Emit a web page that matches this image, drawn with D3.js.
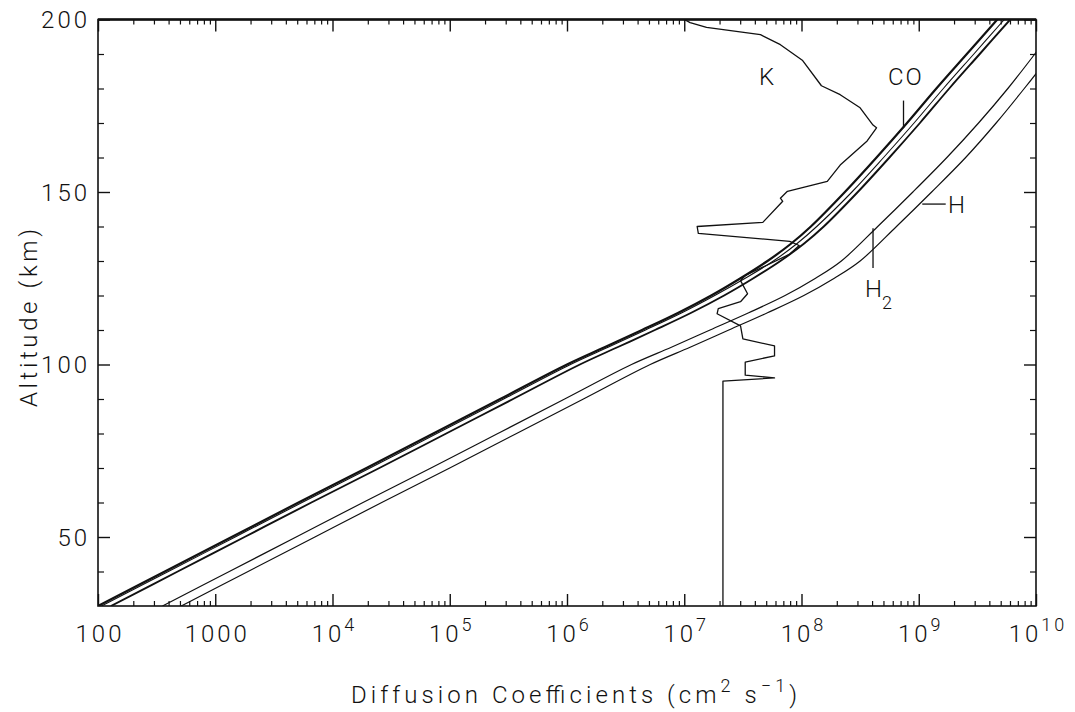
<!DOCTYPE html>
<html>
<head>
<meta charset="utf-8">
<script src="https://cdn.jsdelivr.net/npm/d3@7"></script>
<style>
  body { margin: 0; background: #fff; }
  text { font-family: Roboto, "Open Sans", sans-serif; font-weight: 300; fill: #111; }
</style>
</head>
<body>
<svg id="chart" width="1075" height="712"></svg>
<script>
// altitude grid (km) for the molecular diffusion curves
const heavyAlt = [30, 40, 50, 60, 70, 80, 90, 100, 105, 110, 115, 120, 125, 130, 135, 140, 150, 160, 170, 180, 190, 200]
// log10 of D (cm2 s-1)
const coLogD   = [2.00, 2.57, 3.14, 3.71, 4.29, 4.86, 5.43, 6.00, 6.32, 6.64, 6.95, 7.23, 7.48, 7.71, 7.91, 8.08, 8.37, 8.64, 8.90, 9.15, 9.41, 9.67]
const midLogD  = [2.03, 2.60, 3.17, 3.74, 4.32, 4.89, 5.46, 6.03, 6.35, 6.67, 6.98, 7.26, 7.52, 7.76, 7.96, 8.13, 8.43, 8.70, 8.96, 9.21, 9.47, 9.73]
const heavyLogD = [2.11, 2.68, 3.25, 3.82, 4.40, 4.97, 5.54, 6.11, 6.43, 6.75, 7.06, 7.34, 7.59, 7.82, 8.02, 8.19, 8.48, 8.75, 9.01, 9.26, 9.52, 9.78]

const lightAlt = [30, 40, 50, 60, 70, 80, 90, 100, 105, 110, 115, 120, 125, 130, 140, 150, 160, 170, 180, 190, 200]
const h2LogD   = [2.55, 3.12, 3.69, 4.26, 4.84, 5.41, 5.98, 6.55, 6.89, 7.22, 7.55, 7.86, 8.12, 8.34, 8.65, 8.95, 9.24, 9.51, 9.76, 9.99, 10.21]
const hLogD    = [2.71, 3.28, 3.85, 4.42, 5.00, 5.57, 6.14, 6.71, 7.05, 7.38, 7.71, 8.02, 8.28, 8.50, 8.81, 9.11, 9.40, 9.66, 9.90, 10.13, 10.35]

// eddy diffusion coefficient K, traced as a path (bottom to top)
const kAlt  = [30, 95.2, 96.1, 96.9, 100.7, 102.5, 105.4, 107.4, 111.2, 114.7, 116.2, 118.2, 120.5, 124.3, 125.8, 128.7, 132, 134.5, 135.7, 138, 140, 141.2, 147.3, 148.2, 150.2, 153.1, 157.8, 164.8, 168.6, 169.4, 174.4, 178.2, 180.8, 188.1, 192.7, 195.6, 197.7, 199.1, 200]
const kLogD = [7.33, 7.33, 7.77, 7.52, 7.52, 7.77, 7.77, 7.50, 7.48, 7.28, 7.29, 7.48, 7.54, 7.48, 7.52, 7.70, 7.90, 7.98, 7.90, 7.12, 7.11, 7.67, 7.84, 7.82, 7.88, 8.22, 8.33, 8.56, 8.64, 8.61, 8.50, 8.33, 8.17, 8.01, 7.82, 7.65, 7.19, 7.05, 7.00]

const yMajor = [50, 100, 150, 200]
const yMinor = [40, 60, 70, 80, 90, 110, 120, 130, 140, 160, 170, 180, 190]
const xExponents = [2, 3, 4, 5, 6, 7, 8, 9, 10]

const svg = d3.select("#chart")
svg.append("rect").attr("width", 1075).attr("height", 712).attr("fill", "#fff")

const x = d3.scaleLog().domain([1e2, 1e10]).range([98, 1036])
const y = d3.scaleLinear().domain([30, 200]).range([606, 19.5])

svg.append("clipPath").attr("id", "plot")
  .append("rect")
  .attr("x", x.range()[0]).attr("y", y.range()[1])
  .attr("width", x.range()[1] - x.range()[0])
  .attr("height", y.range()[0] - y.range()[1])

const majorX = xExponents.map(e => Math.pow(10, e))
const minorX = []
xExponents.slice(0, -1).forEach(e => {
  for (let m = 2; m <= 9; m++) minorX.push(m * Math.pow(10, e))
})

function tickAxis(axis, transform, width) {
  const g = svg.append("g").attr("transform", transform).call(axis)
  g.select(".domain").remove()
  g.selectAll("line").attr("stroke", "#111").attr("stroke-width", width)
  g.selectAll("text").remove()
}

// ticks point into the plot on all four sides
tickAxis(d3.axisBottom(x).tickValues(majorX).tickSize(-12), `translate(0,${y(30)})`, 1.4)
tickAxis(d3.axisBottom(x).tickValues(minorX).tickSize(-5), `translate(0,${y(30)})`, 1.2)
tickAxis(d3.axisTop(x).tickValues(majorX).tickSize(-12), `translate(0,${y(200)})`, 1.4)
tickAxis(d3.axisTop(x).tickValues(minorX).tickSize(-5), `translate(0,${y(200)})`, 1.2)
tickAxis(d3.axisLeft(y).tickValues(yMajor).tickSize(-12), `translate(${x(1e2)},0)`, 1.4)
tickAxis(d3.axisLeft(y).tickValues(yMinor).tickSize(-6), `translate(${x(1e2)},0)`, 1.2)
tickAxis(d3.axisRight(y).tickValues(yMajor).tickSize(-12), `translate(${x(1e10)},0)`, 1.4)
tickAxis(d3.axisRight(y).tickValues(yMinor).tickSize(-6), `translate(${x(1e10)},0)`, 1.2)

// frame
svg.append("rect")
  .attr("x", x(1e2)).attr("y", y(200))
  .attr("width", x(1e10) - x(1e2)).attr("height", y(30) - y(200))
  .attr("fill", "none").attr("stroke", "#111").attr("stroke-width", 1.6)
svg.append("line")
  .attr("x1", x(1e2)).attr("x2", x(1e10)).attr("y1", y(200)).attr("y2", y(200))
  .attr("stroke", "#111").attr("stroke-width", 2.4)

// tick labels
svg.append("g").selectAll("text").data(yMajor).join("text")
  .attr("x", x(1e2) - 8).attr("y", d => y(d))
  .attr("dy", "0.36em").attr("text-anchor", "end")
  .attr("font-size", 24).attr("letter-spacing", 3)
  .text(d => d)

const xl = svg.append("g").selectAll("text").data(xExponents).join("text")
  .attr("x", e => x(Math.pow(10, e)) + 2).attr("y", 642)
  .attr("text-anchor", "middle").attr("font-size", 24).attr("letter-spacing", 3)
xl.filter(e => e <= 3).text(e => Math.pow(10, e))
xl.filter(e => e > 3).each(function (e) {
  const t = d3.select(this)
  t.append("tspan").text("10")
  t.append("tspan").attr("dy", -11).attr("font-size", 18).text(e)
})

// axis titles
const xt = svg.append("text")
  .attr("x", 574).attr("y", 703).attr("text-anchor", "middle")
  .attr("font-size", 24).attr("textLength", 446).attr("lengthAdjust", "spacing")
xt.append("tspan").text("Diffusion Coefficients (cm")
xt.append("tspan").attr("dy", -11).attr("font-size", 18).text("2")
xt.append("tspan").attr("dy", 11).text(" s")
xt.append("tspan").attr("dy", -11).attr("font-size", 18).text("\u22121")
xt.append("tspan").attr("dy", 11).text(")")

svg.append("text")
  .attr("transform", "translate(37,318) rotate(-90)")
  .attr("text-anchor", "middle").attr("font-size", 24)
  .attr("textLength", 178).attr("lengthAdjust", "spacing")
  .text("Altitude (km)")

// curves
const line = d3.line().x(d => x(Math.pow(10, d[1]))).y(d => y(d[0]))
const smooth = d3.line().curve(d3.curveCatmullRom).x(d => x(Math.pow(10, d[1]))).y(d => y(d[0]))
const plot = svg.append("g").attr("clip-path", "url(#plot)")

const series = [
  { alt: lightAlt, logD: hLogD, width: 1.2 },
  { alt: lightAlt, logD: h2LogD, width: 1.2 },
  { alt: heavyAlt, logD: heavyLogD, width: 1.9 },
  { alt: heavyAlt, logD: midLogD, width: 1.1 },
  { alt: heavyAlt, logD: coLogD, width: 2.2 }
]
series.forEach(s => {
  plot.append("path")
    .datum(d3.zip(s.alt, s.logD))
    .attr("d", smooth)
    .attr("fill", "none").attr("stroke", "#111").attr("stroke-width", s.width)
})
plot.append("path")
  .datum(d3.zip(kAlt, kLogD))
  .attr("d", line)
  .attr("fill", "none").attr("stroke", "#111").attr("stroke-width", 1.3)
  .attr("stroke-linejoin", "round")

// species labels and their pointer strokes
const labels = [
  { text: "K", logD: 7.71, alt: 183.5 },
  { text: "CO", logD: 8.89, alt: 183.5 },
  { text: "H", logD: 9.33, alt: 146.5 }
]
svg.append("g").selectAll("text").data(labels).join("text")
  .attr("x", d => x(Math.pow(10, d.logD))).attr("y", d => y(d.alt))
  .attr("dy", "0.36em").attr("text-anchor", "middle")
  .attr("font-size", 24).attr("letter-spacing", 2)
  .text(d => d.text)

const h2 = svg.append("text")
  .attr("x", x(Math.pow(10, 8.61)) - 8).attr("y", y(119.5))
  .attr("font-size", 24)
h2.append("tspan").text("H")
h2.append("tspan").attr("dy", 12).attr("font-size", 18).text("2")

const pointers = [
  { a: [8.87, 176.5], b: [8.87, 168.5] },
  { a: [9.03, 146.5], b: [9.23, 146.5] },
  { a: [8.61, 139.5], b: [8.61, 128] }
]
svg.append("g").selectAll("line").data(pointers).join("line")
  .attr("x1", d => x(Math.pow(10, d.a[0]))).attr("y1", d => y(d.a[1]))
  .attr("x2", d => x(Math.pow(10, d.b[0]))).attr("y2", d => y(d.b[1]))
  .attr("stroke", "#111").attr("stroke-width", 1.3)
</script>
</body>
</html>
